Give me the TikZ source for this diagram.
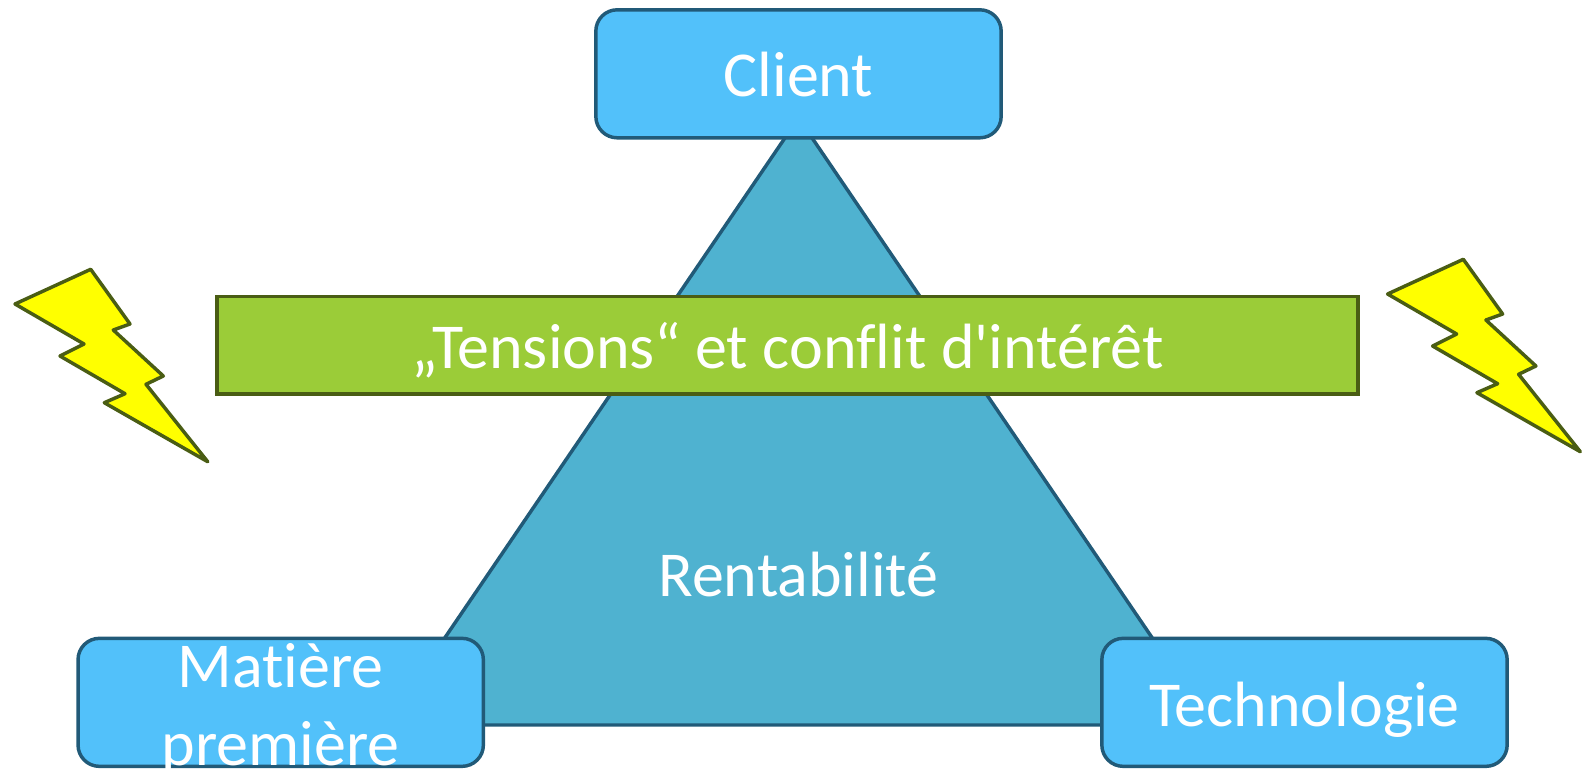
\documentclass[tikz,border=0pt]{standalone}
\usepackage{fontspec}
\setmainfont[Ligatures={NoCommon,TeXOff}]{Carlito}
\usepackage{tikz}
\definecolor{boxblue}{HTML}{52C1FA}
\definecolor{boxline}{HTML}{215A78}
\definecolor{triblue}{HTML}{4FB2D0}
\definecolor{bargreen}{HTML}{9BCC38}
\definecolor{barline}{HTML}{4A5D14}
\definecolor{boltyellow}{HTML}{FFFF00}
\tikzstyle{corner} = [rectangle, rounded corners=16pt,
minimum width=304pt,
minimum height=96pt,
inner sep=0pt,
text centered,
text height=34.5pt,
text depth=0pt,
text=white,
line width=2.6pt,
draw=boxline,
fill=boxblue,
font=\fontsize{48}{58.6}\selectfont]
\tikzstyle{tensionbar} = [rectangle,
minimum width=855.5pt,
minimum height=73.4pt,
inner sep=0pt,
text centered,
text height=34.5pt,
text depth=0pt,
text=white,
line width=2.6pt,
draw=barline,
fill=bargreen,
font=\fontsize{48}{58.6}\selectfont]
\tikzstyle{pyramid} = [line width=2.6pt, draw=boxline, fill=triblue, line join=round]
\tikzstyle{bolt} = [line width=2.6pt, draw=barline, fill=boltyellow, line join=round]
\tikzstyle{plain} = [text=white, inner sep=0pt, text height=33.5pt, text depth=0pt, font=\fontsize{48}{58.6}\selectfont]
\newcommand{\boltpath}{(90.7,269.3) -- (130,324) -- (113.3,330) -- (163.3,376) -- (146,384.3) -- (207.7,461.7)
    -- (104.3,402.7) -- (125,393.7) -- (60,356) -- (84,344) -- (15,304) -- cycle}

\begin{document}
\begin{tikzpicture}[x=0.75pt, y=-0.75pt]

    \clip (0,0) rectangle (1587,768);

    \coordinate (apex) at (798.5,118);
    \coordinate (base_l) at (385.5,725);
    \coordinate (base_r) at (1211.5,725);
    \draw [pyramid] (apex) -- (base_l) -- (base_r) -- cycle;

    \node (client) [corner] at (798.5,73.8) {Client};
    \node (tension) [tensionbar, below of=client, node distance=203.6pt, xshift=-8.25pt] {„Tensions“ et conflit d'intérêt};
    \node (rentab) [plain, below of=client, node distance=374.9pt] {Rentabilité};
    \node (matiere) [corner, text height=0pt, below of=client, node distance=471.4pt, xshift=-388.35pt]
        {\smash{\raisebox{11pt}{\parbox[t]{280pt}{\centering Matière\\première}}}};
    \node (techno) [corner, text height=36pt, below of=client, node distance=471.4pt, xshift=379.5pt] {Technologie};

    \draw [bolt] \boltpath;
    \draw [bolt, xshift=1029.45pt, yshift=7.5pt] \boltpath;

\end{tikzpicture}
\end{document}
